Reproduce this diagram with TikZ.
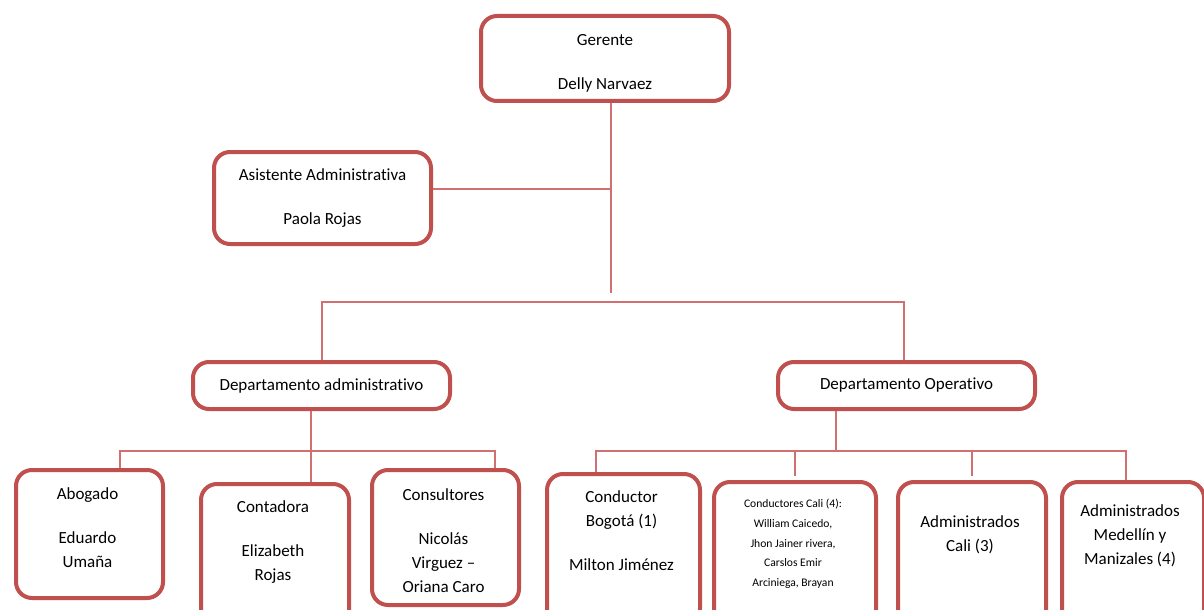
\documentclass[tikz,border=0pt]{standalone}
\usepackage{fontspec}
\setmainfont{Carlito}[Ligatures=NoCommon]
\usepackage{xcolor}
\usetikzlibrary {arrows.meta, positioning, calc}
\definecolor{boxred}{RGB}{192,80,77}
\definecolor{linered}{RGB}{208,112,112}
\tikzset{
    >={Latex},
    box/.style={draw=boxred, line width=2pt, rounded corners=8pt, fill=white,
        align=center, inner sep=0pt, font=\fontsize{8.5}{12}\selectfont},
    boxtext/.style={align=center, inner sep=0pt, anchor=north,
        font=\fontsize{8.5}{12}\selectfont},
    link/.style={draw=linered, line width=0.8pt}
}

\begin{document}
\begin{tikzpicture}[x=0.5pt, y=-0.5pt]
    \useasboundingbox (0, 0) rectangle (1204, 610);
    % upper boxes
    \node[box, minimum width=124pt, minimum height=42.5pt] (gerente) at (605, 58.5) {};
    \node[boxtext] (gerente-t) at (605, 34) {Gerente\\[10pt]Delly Narvaez};
    \node[box, minimum width=108.5pt, minimum height=46pt] (asistente) at (322.5, 198)
        {Asistente Administrativa\\[10pt]Paola Rojas};
    \node[box, minimum width=128.5pt, minimum height=23.5pt] (depadm) at (321.5, 385.5)
        {Departamento administrativo};
    \node[box, minimum width=128.5pt, minimum height=23.5pt] (depop) at (906.5, 385.5)
        {Departamento Operativo};
    % lower boxes
    \node[box, anchor=north west, minimum width=73.5pt, minimum height=64pt] (abogado) at (14, 468) {};
    \node[box, anchor=north west, minimum width=74pt, minimum height=75pt] (contadora) at (199, 482) {};
    \node[box, anchor=north west, minimum width=73.5pt, minimum height=67.5pt] (consultores) at (370, 468) {};
    \node[box, anchor=north west, minimum width=76.5pt, minimum height=75pt] (condbog) at (545, 472) {};
    \node[box, anchor=north west, minimum width=81pt, minimum height=75pt] (condcali) at (712, 480) {};
    \node[box, anchor=north west, minimum width=74pt, minimum height=75pt] (admcali) at (896, 480) {};
    \node[box, anchor=north west, minimum width=71pt, minimum height=75pt] (admmed) at (1060, 480) {};
    % texts of the lower boxes
    \node[boxtext] (abogado-t) at (87.5, 487) {Abogado\\[10pt]Eduardo\\Umaña};
    \node[boxtext] (contadora-t) at (273, 500) {Contadora\\[10pt]Elizabeth\\Rojas};
    \node[boxtext] (consultores-t) at (443.5, 488) {Consultores\\[10pt]Nicolás\\Virguez –\\Oriana Caro};
    \node[boxtext] (condbog-t) at (621.5, 490) {Conductor\\Bogotá (1)\\[10pt]Milton Jiménez};
    \node[boxtext, font=\fontsize{5.8}{9.8}\selectfont] (condcali-t) at (793, 499)
        {Conductores Cali (4):\\William Caicedo,\\Jhon Jainer rivera,\\Carslos Emir\\Arciniega, Brayan};
    \node[boxtext] (admcali-t) at (970, 515) {Administrados\\Cali (3)};
    \node[boxtext] (admmed-t) at (1130, 504) {Administrados\\Medellín y\\Manizales (4)};
    % joints of the lines
    \coordinate (gerjoin) at (611, 293);
    \coordinate (asisjoin) at (611, 189);
    \coordinate (topbus-l) at (322, 302);
    \coordinate (topbus-r) at (904, 302);
    \coordinate (admbus) at (311, 451);
    \coordinate (admbus-l) at (120, 451);
    \coordinate (admbus-r) at (495, 451);
    \coordinate (opbus) at (836, 451);
    \coordinate (opbus-l) at (596, 451);
    \coordinate (opbus-r) at (1126, 451);
    % connectors
    \draw[link] (gerente.south -| gerjoin) -- (gerjoin);
    \draw[link] (asistente.east |- asisjoin) -- (asisjoin);
    \draw[link] (depadm.north -| topbus-l) -- (topbus-l) -- (topbus-r) -- (depop.north -| topbus-r);
    \draw[link] (depadm.south -| admbus) -- (admbus);
    \draw[link] (abogado.north -| admbus-l) -- (admbus-l) -- (admbus-r) -- (consultores.north -| admbus-r);
    \draw[link] (contadora.north -| admbus) -- (admbus);
    \draw[link] (depop.south -| opbus) -- (opbus);
    \draw[link] (condbog.north -| opbus-l) -- (opbus-l) -- (opbus-r) -- (admmed.north -| opbus-r);
    \draw[link] (opbus-l -| condcali.north) -- ([yshift=2pt]condcali.north);
    \draw[link] (opbus-l -| admcali.north) -- ([yshift=2pt]admcali.north);
\end{tikzpicture}
\end{document}
